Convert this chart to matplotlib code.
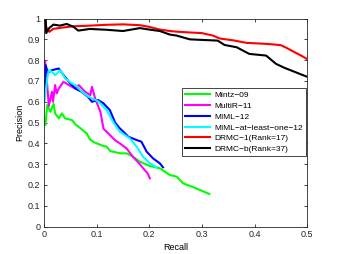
import numpy as np
import matplotlib
matplotlib.use('Agg')
import matplotlib.pyplot as plt
from matplotlib.ticker import FuncFormatter

plt.rcParams['font.family'] = ['Liberation Sans', 'DejaVu Sans']

# Precision-recall curves, values
mintz_r = [0.0025, 0.006, 0.012, 0.018, 0.021, 0.028, 0.034, 0.040, 0.053, 0.060,
           0.068, 0.075, 0.081, 0.087, 0.095, 0.100, 0.110, 0.119, 0.126, 0.131,
           0.145, 0.157, 0.169, 0.182, 0.200, 0.220, 0.239, 0.252, 0.264, 0.283,
           0.296, 0.314]
mintz_p = [0.488, 0.584, 0.552, 0.590, 0.544, 0.520, 0.544, 0.520, 0.512, 0.490,
           0.475, 0.460, 0.448, 0.420, 0.405, 0.400, 0.390, 0.384, 0.362, 0.360,
           0.352, 0.352, 0.336, 0.312, 0.292, 0.280, 0.248, 0.240, 0.208, 0.190,
           0.176, 0.157]

multir_r = [0.002, 0.006, 0.009, 0.015, 0.017, 0.021, 0.024, 0.028, 0.037, 0.047,
            0.059, 0.066, 0.078, 0.088, 0.091, 0.097, 0.107, 0.113, 0.125, 0.135,
            0.144, 0.157, 0.169, 0.182, 0.190, 0.197, 0.201]
multir_p = [0.792, 0.680, 0.580, 0.648, 0.600, 0.680, 0.640, 0.664, 0.696, 0.680,
            0.664, 0.680, 0.648, 0.632, 0.672, 0.616, 0.552, 0.470, 0.440, 0.415,
            0.400, 0.375, 0.335, 0.300, 0.275, 0.255, 0.232]

miml_r = [0.001, 0.003, 0.007, 0.015, 0.028, 0.037, 0.047, 0.059, 0.071, 0.083,
          0.091, 0.103, 0.113, 0.125, 0.135, 0.144, 0.154, 0.160, 0.176, 0.185,
          0.195, 0.207, 0.220, 0.226]
miml_p = [0.620, 0.776, 0.740, 0.752, 0.760, 0.728, 0.696, 0.664, 0.648, 0.625,
          0.600, 0.608, 0.592, 0.560, 0.500, 0.472, 0.448, 0.432, 0.416, 0.408,
          0.360, 0.328, 0.304, 0.285]

mimlone_r = [0.001, 0.006, 0.009, 0.015, 0.021, 0.031, 0.040, 0.053, 0.060, 0.072,
             0.085, 0.104, 0.119, 0.131, 0.144, 0.163, 0.176, 0.188, 0.201, 0.207,
             0.214]
mimlone_p = [0.600, 0.712, 0.752, 0.744, 0.728, 0.752, 0.712, 0.688, 0.680, 0.648,
             0.624, 0.600, 0.560, 0.504, 0.456, 0.424, 0.384, 0.336, 0.304, 0.296,
             0.285]

drmc1_r = [0.002, 0.004, 0.010, 0.017, 0.030, 0.056, 0.080, 0.119, 0.150, 0.182,
           0.200, 0.220, 0.239, 0.252, 0.277, 0.300, 0.321, 0.334, 0.360, 0.385,
           0.410, 0.429, 0.450, 0.460, 0.480, 0.490, 0.500]
drmc1_p = [1.000, 0.960, 0.936, 0.950, 0.955, 0.963, 0.965, 0.970, 0.972, 0.968,
           0.960, 0.947, 0.940, 0.937, 0.933, 0.930, 0.918, 0.904, 0.895, 0.883,
           0.880, 0.877, 0.872, 0.860, 0.833, 0.820, 0.805]

drmcb_r = [0.003, 0.004, 0.010, 0.018, 0.030, 0.043, 0.056, 0.065, 0.087, 0.119,
           0.150, 0.182, 0.200, 0.220, 0.239, 0.252, 0.277, 0.302, 0.330, 0.343,
           0.366, 0.390, 0.422, 0.441, 0.457, 0.480, 0.500]
drmcb_p = [1.000, 0.930, 0.955, 0.971, 0.966, 0.974, 0.960, 0.942, 0.950, 0.946,
           0.940, 0.954, 0.947, 0.940, 0.923, 0.918, 0.900, 0.897, 0.894, 0.873,
           0.862, 0.830, 0.822, 0.782, 0.763, 0.740, 0.720]

labels = ['Mintz\u221209', 'MultiR\u221211', 'MIML\u221212',
          'MIML\u2212at\u2212least\u2212one\u221212',
          'DRMC\u22121(Rank=17)', 'DRMC\u2212b(Rank=37)']
colors = ['#00ff00', '#ff00ff', '#0000ff', '#00ffff', '#ff0000', '#000000']
xs = [mintz_r, multir_r, miml_r, mimlone_r, drmc1_r, drmcb_r]
ys = [mintz_p, multir_p, miml_p, mimlone_p, drmc1_p, drmcb_p]

fig = plt.figure(figsize=(3.39, 2.54), dpi=100)
ax = fig.add_axes([0.130, 0.108, 0.776, 0.819])

for x, y, c, lab in zip(xs, ys, colors, labels):
    ax.plot(x, y, color=c, linewidth=1.5, label=lab)

ax.set_xlim(0, 0.5)
ax.set_ylim(0, 1)
ax.set_xticks(np.arange(0, 0.51, 0.1))
ax.set_yticks(np.arange(0, 1.01, 0.1))
ax.xaxis.set_major_formatter(FuncFormatter(lambda v, p: '%g' % round(v, 2)))
ax.yaxis.set_major_formatter(FuncFormatter(lambda v, p: '%g' % round(v, 2)))
ax.tick_params(direction='in', top=True, right=True, length=2.5, width=0.6,
               labelsize=6.5, colors='#262626', pad=2.5)
for s in ax.spines.values():
    s.set_linewidth(0.6)
    s.set_color('#262626')

ax.set_xlabel('Recall', fontsize=6.5, labelpad=3)
ax.set_ylabel('Precision', fontsize=6.5, labelpad=3)

leg = ax.legend(loc='upper left', bbox_to_anchor=(0.525, 0.666), borderaxespad=0,
                fontsize=6.0, handlelength=3.0, handletextpad=0.45, labelspacing=0.36,
                fancybox=False, framealpha=1, borderpad=0.38)
leg.get_frame().set_edgecolor('#262626')
leg.get_frame().set_linewidth(0.6)

fig.savefig('out.png', dpi=100)
